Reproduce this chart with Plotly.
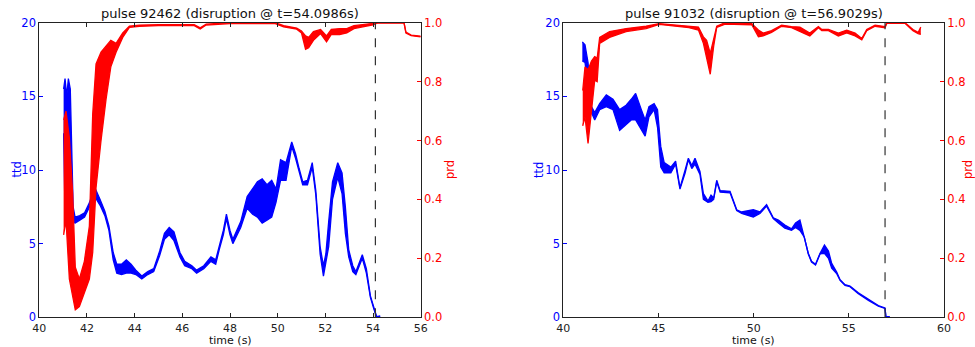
import plotly.graph_objects as go

# ---------------- data ----------------
pulse_a = "92462"
disr_a = 54.0986
pulse_b = "91032"
disr_b = 56.9029

# left panel: ttd envelope (time, low, high)
a_ttd_t = [41.02, 41.08, 41.15, 41.22, 41.30, 41.36, 41.42, 41.50, 41.70, 41.90, 42.08, 42.22, 42.36, 42.55,
           42.75, 42.92, 43.10, 43.25, 43.45, 43.65, 43.85, 44.05, 44.30, 44.55, 44.80, 45.05, 45.25, 45.45,
           45.65, 45.90, 46.10, 46.40, 46.60, 46.90, 47.20, 47.40, 47.55, 47.72, 47.85, 48.00, 48.12, 48.45,
           48.72, 48.95, 49.15, 49.35, 49.55, 49.75, 49.93, 50.12, 50.35, 50.59, 50.75, 50.90, 51.05, 51.25,
           51.45, 51.60, 51.78, 51.92, 52.02, 52.14, 52.30, 52.52, 52.70, 52.84, 52.98, 53.15, 53.28, 53.55,
           53.72, 53.89, 54.03, 54.10, 54.15, 54.30]
a_ttd_lo = [12.5, 7.0, 6.0, 6.5, 6.2, 6.6, 6.6, 6.4, 6.6, 6.8, 7.4, 7.9, 8.1, 7.6,
            6.9, 5.9, 3.9, 3.0, 2.9, 3.0, 3.0, 2.9, 2.6, 2.9, 3.1, 4.2, 5.3, 5.6,
            5.2, 4.1, 3.5, 3.3, 3.0, 3.3, 3.8, 3.6, 4.6, 5.6, 6.7, 5.6, 5.0, 6.1,
            7.4, 7.0, 6.8, 6.4, 6.6, 6.8, 7.8, 9.3, 9.3, 11.6, 10.8, 9.9, 9.0, 9.0,
            10.2, 8.3, 4.3, 2.8, 3.6, 4.8, 8.0, 9.5, 8.4, 5.7, 4.1, 3.1, 2.9, 4.0,
            3.0, 1.35, 0.6, 0.3, 0.0, 0.0]
a_ttd_hi = [15.5, 16.2, 15.0, 16.2, 15.5, 11.0, 7.5, 6.8, 6.9, 7.1, 7.7, 8.3, 8.7, 8.0,
            7.2, 6.2, 4.4, 3.6, 3.6, 3.9, 3.6, 3.2, 2.8, 3.1, 3.3, 4.5, 5.7, 6.1,
            5.8, 4.4, 3.8, 3.5, 3.2, 3.5, 4.1, 3.9, 4.9, 5.9, 7.0, 5.9, 5.3, 6.5,
            8.2, 8.7, 9.2, 9.4, 9.0, 9.3, 8.7, 10.7, 10.5, 11.9, 11.1, 10.1, 9.2, 9.3,
            10.5, 8.6, 4.8, 3.5, 4.3, 6.5, 9.2, 10.5, 9.8, 7.5, 4.6, 3.5, 3.1, 4.25,
            3.3, 1.45, 0.65, 0.4, 0.05, 0.1]

# left panel: prd envelope
a_prd_t = [41.02, 41.12, 41.26, 41.40, 41.51, 41.68, 41.89, 42.10, 42.24, 42.38, 42.59, 42.80, 43.00, 43.22,
           43.50, 43.78, 44.20, 45.00, 46.50, 46.75, 47.00, 48.00, 49.90, 50.25, 50.80, 51.00, 51.17, 51.30,
           51.50, 51.80, 52.05, 52.25, 52.60, 52.90, 53.20, 54.00, 54.20, 55.30, 55.38, 55.60, 56.00]
a_prd_lo = [0.28, 0.33, 0.13, 0.07, 0.025, 0.036, 0.08, 0.13, 0.22, 0.44, 0.60, 0.74, 0.85, 0.90,
            0.95, 0.984, 0.988, 0.990, 0.990, 0.979, 0.992, 0.997, 0.997, 0.986, 0.978, 0.965, 0.91, 0.915,
            0.94, 0.963, 0.935, 0.96, 0.96, 0.965, 0.98, 0.993, 0.999, 0.999, 0.965, 0.956, 0.952]
a_prd_hi = [0.67, 0.70, 0.61, 0.42, 0.17, 0.13, 0.19, 0.31, 0.69, 0.86, 0.90, 0.92, 0.94, 0.93,
            0.965, 0.988, 0.992, 0.993, 0.993, 0.983, 0.995, 1.0, 1.0, 0.99, 0.982, 0.972, 0.955, 0.95,
            0.97, 0.977, 0.955, 0.977, 0.98, 0.98, 0.99, 0.998, 1.0, 1.0, 0.968, 0.958, 0.954]

# right panel: ttd envelope
b_ttd_t = [41.00, 41.14, 41.30, 41.48, 41.65, 41.91, 42.26, 42.61, 42.96, 43.30, 43.57, 43.80, 44.10, 44.30,
           44.50, 44.77, 44.95, 45.12, 45.30, 45.65, 45.90, 46.13, 46.40, 46.57, 46.75, 46.92, 47.18, 47.36,
           47.60, 47.76, 47.90, 48.06, 48.24, 48.76, 49.11, 49.37, 49.98, 50.33, 50.68, 51.03, 51.30, 51.64,
           51.99, 52.20, 52.43, 52.66, 52.87, 53.04, 53.25, 53.49, 53.72, 53.93, 54.10, 54.37, 54.54, 54.80,
           55.06, 55.50, 56.03, 56.55, 56.90, 56.95, 57.15]
b_ttd_lo = [17.4, 17.3, 15.7, 13.9, 13.4, 14.1, 14.3, 14.1, 12.7, 13.1, 13.4, 13.4, 12.7, 12.3,
            13.6, 14.1, 12.9, 10.2, 9.8, 9.8, 10.4, 8.7, 9.8, 10.7, 10.1, 10.4, 9.7, 8.0,
            7.8, 7.85, 8.0, 9.2, 8.5, 8.45, 7.25, 7.05, 6.8, 7.05, 7.55, 6.7, 6.4, 6.05,
            5.9, 6.1, 5.9, 5.45, 4.3, 3.75, 3.55, 4.3, 4.34, 4.0, 3.33, 2.95, 2.5, 2.17,
            2.08, 1.6, 1.15, 0.75, 0.6, 0.0, 0.0]
b_ttd_hi = [18.7, 18.5, 17.3, 14.3, 13.9, 14.5, 15.1, 14.8, 14.1, 14.4, 14.8, 15.2, 14.1, 13.4,
            14.3, 14.5, 14.1, 11.6, 10.5, 10.2, 10.6, 8.8, 10.0, 10.8, 10.3, 10.8, 9.9, 8.4,
            7.9, 8.3, 8.1, 9.3, 8.6, 8.55, 7.3, 7.15, 7.3, 7.15, 7.65, 6.75, 6.6, 6.27,
            6.0, 6.4, 6.6, 5.5, 4.35, 3.8, 3.6, 4.35, 4.9, 4.5, 3.66, 3.05, 2.55, 2.22,
            2.12, 1.66, 1.2, 0.8, 0.63, 0.05, 0.05]

# right panel: prd envelope
b_prd_t = [41.02, 41.14, 41.30, 41.48, 41.65, 41.78, 41.91, 42.43, 43.30, 44.35, 45.04, 46.60, 47.10, 47.36,
           47.53, 47.72, 47.90, 48.06, 48.50, 49.90, 50.25, 50.50, 50.94, 51.47, 51.99, 52.43, 52.95, 53.40,
           53.58, 53.93, 54.45, 54.89, 55.33, 55.68, 55.94, 56.38, 56.90, 57.00, 57.95, 58.20, 58.37, 58.64,
           58.78]
b_prd_lo = [0.65, 0.68, 0.59, 0.69, 0.805, 0.80, 0.93, 0.95, 0.97, 0.98, 0.994, 0.983, 0.975, 0.93,
            0.885, 0.825, 0.92, 0.984, 0.995, 0.993, 0.952, 0.955, 0.967, 0.988, 0.983, 0.97, 0.955, 0.983,
            0.973, 0.973, 0.955, 0.965, 0.955, 0.942, 0.973, 0.988, 0.983, 0.998, 0.998, 0.983, 0.973, 0.963,
            0.96]
b_prd_hi = [0.77, 0.85, 0.84, 0.87, 0.885, 0.88, 0.95, 0.97, 0.98, 0.988, 0.997, 0.987, 0.985, 0.952,
            0.94, 0.896, 0.95, 0.988, 1.0, 0.997, 0.975, 0.965, 0.973, 0.992, 0.987, 0.985, 0.965, 0.987,
            0.977, 0.977, 0.965, 0.975, 0.965, 0.946, 0.977, 0.992, 0.987, 1.0, 1.0, 0.987, 0.977, 0.967,
            0.985]

ttd_ticks = [0, 5, 10, 15, 20]
prd_ticks = [0.0, 0.2, 0.4, 0.6, 0.8, 1.0]
a_xticks = [40, 42, 44, 46, 48, 50, 52, 54, 56]
b_xticks = [40, 45, 50, 55, 60]

# ---------------- figure ----------------
W, H = 975, 347
BLUE = "#0000ff"
RED = "#ff0000"
FONT = "DejaVu Sans"

fig = go.Figure()


def band(t, lo, hi, color, xa, ya):
    fig.add_trace(go.Scatter(x=t, y=lo, mode="lines", line=dict(color=color, width=1.3),
                             xaxis=xa, yaxis=ya, showlegend=False, hoverinfo="skip"))
    fig.add_trace(go.Scatter(x=t, y=hi, mode="lines", line=dict(color=color, width=1.3),
                             fill="tonexty", fillcolor=color,
                             xaxis=xa, yaxis=ya, showlegend=False, hoverinfo="skip"))


band(a_ttd_t, a_ttd_lo, a_ttd_hi, BLUE, "x", "y")
band(a_prd_t, a_prd_lo, a_prd_hi, RED, "x", "y2")
band(b_ttd_t, b_ttd_lo, b_ttd_hi, BLUE, "x2", "y3")
band(b_prd_t, b_prd_lo, b_prd_hi, RED, "x2", "y4")


def px(v):
    return v / W


def py(v):
    return 1 - v / H


dom_a = [px(39.3), px(420.7)]
dom_b = [px(563.3), px(944.0)]
dom_y = [py(317.3), py(22.7)]

tickfont = dict(family=FONT, size=11, color="#222")


def xax(domain, ticks, rng, anchor):
    return dict(domain=domain, range=rng, tickvals=ticks, ticks="inside", ticklen=4,
                tickcolor="#222", showline=True, linecolor="#222", linewidth=1, mirror="ticks",
                showgrid=False, zeroline=False, anchor=anchor, tickfont=tickfont, fixedrange=True,
                automargin=False)


def yax_left(anchor):
    return dict(domain=dom_y, range=[0, 20], tickvals=ttd_ticks, ticks="inside", ticklen=4,
                tickcolor=BLUE, showline=True, linecolor="#222", linewidth=1,
                showgrid=False, zeroline=False, anchor=anchor, automargin=False,
                tickfont=dict(family=FONT, size=11.5, color=BLUE), fixedrange=True)


def yax_right(anchor, over):
    return dict(domain=dom_y, range=[0, 1], tickvals=prd_ticks, tickformat=".1f", ticks="inside",
                ticklen=4, tickcolor=RED, showline=True, linecolor="#222", linewidth=1,
                showgrid=False, zeroline=False, anchor=anchor, overlaying=over, side="right",
                automargin=False,
                tickfont=dict(family=FONT, size=11.5, color=RED), fixedrange=True)


fig.update_layout(
    width=W, height=H, margin=dict(l=0, r=0, t=0, b=0, autoexpand=False),
    paper_bgcolor="white", plot_bgcolor="white",
    xaxis=xax(dom_a, a_xticks, [40, 56], "y"),
    yaxis=yax_left("x"),
    yaxis2=yax_right("x", "y"),
    xaxis2=xax(dom_b, b_xticks, [40, 60], "y3"),
    yaxis3=yax_left("x2"),
    yaxis4=yax_right("x2", "y3"),
)

for xr, d in (("x", disr_a), ("x2", disr_b)):
    fig.add_shape(type="line", xref=xr, yref="paper", x0=d, x1=d, y0=dom_y[0], y1=dom_y[1],
                  line=dict(color="#333", width=1.2, dash="dash"), layer="above")

ann = []
for dom, pulse, d in ((dom_a, pulse_a, disr_a), (dom_b, pulse_b, disr_b)):
    cx = (dom[0] + dom[1]) / 2
    ann.append(dict(text=f"pulse {pulse} (disruption @ t={d}s)", x=cx, y=py(13.5), xref="paper",
                    yref="paper", xanchor="center", yanchor="middle", showarrow=False,
                    font=dict(family=FONT, size=13, color="#111")))
    ann.append(dict(text="time (s)", x=cx, y=py(340.5), xref="paper", yref="paper", showarrow=False,
                    xanchor="center", yanchor="middle",
                    font=dict(family=FONT, size=11, color="#111")))
ymid = py(170)
for xpos, txt, col in ((16.5, "ttd", BLUE), (450, "prd", RED), (539, "ttd", BLUE), (968, "prd", RED)):
    ann.append(dict(text=txt, x=px(xpos), y=ymid, xref="paper", yref="paper", showarrow=False,
                    xanchor="center", yanchor="middle",
                    textangle=-90, font=dict(family=FONT, size=11.5, color=col)))
fig.update_layout(annotations=ann)

fig.write_html("out.html")
